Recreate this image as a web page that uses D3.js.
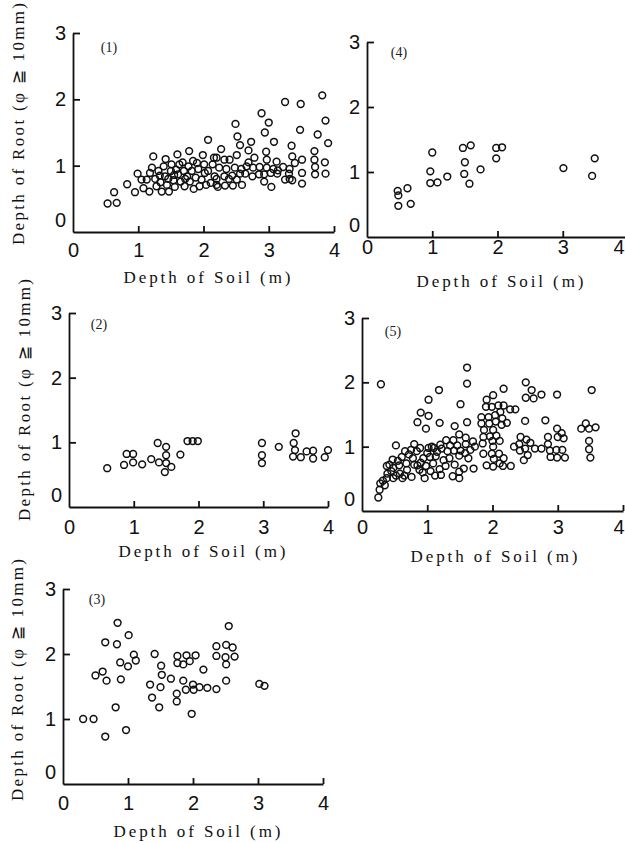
<!DOCTYPE html>
<html><head><meta charset="utf-8">
<script src="https://cdn.jsdelivr.net/npm/d3@7"></script>
<style>
body{margin:0;background:#fff;}
svg{display:block;}
.tick text{font-family:"Liberation Sans",Arial,sans-serif;font-size:20px;fill:#111;}
.domain,.tick line{stroke:#111;stroke-width:1.8px;}
.ttl{font-family:"Liberation Serif","Times New Roman",serif;font-size:17px;fill:#111;}
.plab{font-family:"Liberation Serif","Times New Roman",serif;font-size:14px;fill:#222;}
</style></head><body>
<svg id="c" width="625" height="843"></svg>
<script>
// ---- data (Depth of Soil m, Depth of Root m) ----
const xTicks = [0,1,2,3,4];
const yTicks = [0,1,2,3];
const xTitle = "Depth of Soil (m)";
const yTitle = "Depth of Root (\u03c6 \u2267 10mm)";

const panel1 = [
[0.53,0.43],[0.67,0.44],[0.63,0.60],[0.83,0.72],[0.95,0.60],[0.99,0.88],[1.05,0.79],[1.08,0.66],[1.17,0.61],[1.18,0.89],
[1.23,1.14],[1.26,0.80],[1.28,0.69],[1.31,0.92],[1.34,0.75],[1.36,0.61],[1.41,0.84],[1.42,1.10],[1.44,0.71],[1.47,0.61],
[1.50,0.92],[1.51,1.02],[1.54,0.78],[1.56,0.68],[1.60,1.17],[1.61,0.87],[1.63,1.02],[1.65,0.76],[1.68,1.05],[1.70,0.92],
[1.71,0.69],[1.75,0.84],[1.77,0.99],[1.78,1.22],[1.79,0.76],[1.82,0.92],[1.85,0.65],[1.88,0.82],[1.92,0.95],[1.97,0.79],
[1.99,1.16],[2.01,1.02],[2.02,0.89],[2.04,0.71],[2.07,1.39],[2.07,0.92],[2.11,0.74],[2.14,1.02],[2.16,1.12],[2.17,0.84],
[2.20,0.71],[1.13,0.79],[1.39,0.99],[1.58,0.94],[1.84,1.07],[1.94,0.69],[1.21,0.97],[1.46,0.80],[1.72,0.80],[1.90,1.04],
[1.33,0.85],[1.55,0.86],
[3.82,2.06],[3.25,1.96],[3.49,1.93],[2.89,1.79],[3.87,1.68],[2.49,1.63],[3.00,1.65],[3.48,1.54],[3.75,1.47],[2.94,1.50],
[2.52,1.44],[3.08,1.36],[2.73,1.36],[2.56,1.31],[3.91,1.34],[3.35,1.30],[2.27,1.25],[2.69,1.23],[3.70,1.22],[2.96,1.21],
[3.36,1.14],[3.51,1.09],[3.70,1.09],[3.86,1.05],[2.20,1.12],[2.32,1.09],[2.40,1.09],[2.51,1.16],[2.78,1.12],[2.97,1.09],
[3.12,1.06],[2.69,1.05],[3.71,0.98],[3.40,1.04],[3.22,0.98],[3.32,0.95],[2.24,0.97],[2.35,0.95],[2.48,0.97],[2.58,0.95],
[2.66,0.99],[2.76,0.97],[2.86,0.98],[2.97,0.97],[3.07,0.95],[3.14,0.93],[2.32,0.84],[2.44,0.85],[2.56,0.88],[2.64,0.88],
[2.75,0.84],[2.85,0.87],[2.93,0.87],[3.03,0.89],[3.13,0.88],[3.31,0.88],[3.51,0.89],[3.71,0.87],[3.87,0.88],[2.20,0.80],
[2.39,0.80],[2.51,0.79],[3.25,0.79],[3.36,0.78],[2.33,0.70],[2.45,0.70],[2.59,0.71],[2.93,0.76],[3.04,0.68],[3.32,0.80],
[3.51,0.73],[2.22,0.68]
];

const panel2 = [
[0.59,0.60],[0.85,0.65],[0.89,0.82],[0.99,0.82],[0.99,0.69],[1.13,0.66],[1.27,0.74],[1.39,0.69],[1.37,0.99],[1.50,0.93],
[1.50,0.80],[1.50,0.68],[1.48,0.54],[1.58,0.62],[1.72,0.81],[1.83,1.02],[1.91,1.02],[1.99,1.02],[2.98,0.99],[2.98,0.80],
[2.98,0.68],[3.24,0.93],[3.50,1.14],[3.47,0.99],[3.49,0.88],[3.46,0.78],[3.58,0.77],[3.67,0.86],[3.77,0.87],[3.77,0.75],
[3.95,0.77],[4.00,0.88]
];

const panel3 = [
[0.31,1.00],[0.47,1.00],[0.65,0.73],[0.50,1.67],[0.61,1.73],[0.67,1.59],[0.65,2.18],[0.84,2.48],[0.83,2.15],[0.88,1.87],
[0.89,1.61],[0.81,1.18],[0.97,0.83],[1.01,2.29],[1.00,1.81],[1.09,1.99],[1.12,1.90],[1.41,2.00],[1.34,1.53],[1.37,1.33],
[1.50,1.49],[1.48,1.18],[1.51,1.82],[1.52,1.68],[1.66,1.62],[1.76,1.97],[1.76,1.86],[1.75,1.39],[1.75,1.27],[1.85,1.84],
[1.85,1.59],[1.90,1.98],[1.89,1.45],[1.95,1.89],[2.04,1.98],[2.00,1.53],[2.01,1.45],[1.98,1.08],[2.10,1.49],[2.16,1.76],
[2.22,1.48],[2.36,2.12],[2.36,1.97],[2.36,1.46],[2.51,2.14],[2.50,1.95],[2.51,1.84],[2.51,1.59],[2.55,2.43],[2.61,2.10],
[2.64,1.96],[3.02,1.54],[3.10,1.51]
];

const panel4 = [
[0.47,0.71],[0.48,0.64],[0.48,0.48],[0.62,0.75],[0.67,0.51],[1.00,1.30],[0.97,1.01],[0.97,0.83],[1.08,0.84],[1.23,0.93],
[1.47,1.37],[1.59,1.41],[1.50,1.15],[1.49,0.97],[1.57,0.82],[1.74,1.04],[1.98,1.37],[2.07,1.38],[1.98,1.21],[3.01,1.06],
[3.45,0.94],[3.49,1.21]
];

const panel5 = [
[0.29,1.97],[1.61,2.23],[1.61,1.98],[1.18,1.88],[1.02,1.73],[1.51,1.66],[0.90,1.53],[1.02,1.48],[0.85,1.38],[1.19,1.37],
[1.61,1.38],[0.98,1.28],[1.42,1.32],[1.49,1.19],[1.59,1.14],[0.52,1.02],[1.73,1.00],[1.71,0.66],
[0.25,0.21],[0.27,0.33],[0.28,0.43],[0.35,0.40],[0.38,0.51],[0.38,0.70],[0.39,0.58],[0.47,0.80],[0.48,0.67],[0.48,0.51],
[0.57,0.71],[0.58,0.58],[0.61,0.84],[0.62,0.51],[0.66,0.93],[0.68,0.74],[0.69,0.64],[0.76,0.53],[0.78,0.82],[0.80,1.04],
[0.84,0.93],[0.85,0.71],[0.88,0.64],[0.89,0.98],[0.94,0.82],[0.96,0.51],[0.98,0.70],[1.02,0.98],[1.04,0.84],[1.09,0.74],
[1.10,0.98],[1.13,0.85],[1.19,0.65],[1.21,0.56],[1.22,0.97],[1.25,0.79],[1.29,1.10],[1.31,0.93],[1.34,0.82],[1.39,0.54],
[1.40,1.10],[1.41,0.94],[1.42,0.72],[1.46,1.02],[1.49,0.51],[1.49,0.61],[1.49,0.86],[1.51,0.94],[1.56,0.66],[1.58,0.90],
[1.63,0.82],[1.59,1.04],
[0.45,0.62],[0.55,0.78],[0.72,0.88],[0.90,0.75],[1.00,0.90],[1.05,0.62],[1.15,0.92],[1.28,0.70],[1.35,1.02],[1.66,0.95],
[1.70,1.08],[1.20,1.03],[0.80,0.72],[0.65,0.55],[0.52,0.55],[0.42,0.72],[0.32,0.47],[1.12,0.55],[0.93,0.60],[0.75,0.95],
[1.07,1.00],
[1.91,1.73],[2.01,1.80],[2.17,1.90],[1.90,1.62],[1.99,1.62],[2.09,1.64],[2.17,1.64],[2.27,1.58],[2.35,1.58],[1.83,1.46],
[1.94,1.46],[2.04,1.49],[2.12,1.54],[1.83,1.36],[1.95,1.36],[2.05,1.39],[2.15,1.44],[2.22,1.37],[2.14,1.34],[1.87,1.26],
[2.01,1.26],[1.86,1.15],[1.96,1.16],[2.06,1.17],[1.85,1.05],[2.00,1.09],[2.11,1.09],[2.01,1.00],[1.86,0.89],[1.99,0.89],
[2.10,0.89],[2.17,0.82],[2.02,0.81],[1.91,0.71],[2.01,0.69],[2.11,0.74],[2.16,0.70],[2.28,0.70],
[2.51,2.00],[2.60,1.88],[2.75,1.81],[2.51,1.76],[2.63,1.75],[2.99,1.81],[3.52,1.88],[2.50,1.40],[2.81,1.41],[3.36,1.28],
[3.43,1.36],[3.48,1.28],[3.58,1.30],[2.99,1.28],[3.06,1.21],[3.00,1.15],[3.09,1.13],[2.85,1.15],[3.48,1.09],[3.48,0.96],
[3.50,0.83],[2.43,1.15],[2.52,1.11],[2.58,1.06],[2.33,1.00],[2.41,1.04],[2.42,0.94],[2.50,0.97],[2.54,0.87],[2.48,0.79],
[2.65,0.97],[2.75,0.97],[2.85,1.04],[2.88,0.94],[2.98,0.95],[3.07,0.95],[2.89,0.84],[2.99,0.83],[3.11,0.83]
];

// ---- layout ----
const layout = [
 {label:"(1)", data:panel1, x0:73, x4:334, y0:232, y3:33, lblPad:11, lab:[109,52], xt:[207,283], yt:[18,124]},
 {label:"(4)", data:panel4, x0:367, x4:628, y0:237, y3:42, lblPad:3, lab:[399,57], xt:[500,287], yt:null},
 {label:"(2)", data:panel2, x0:69, x4:328, y0:507, y3:313, lblPad:13, lab:[99,329], xt:[202,557], yt:[24,400]},
 {label:"(5)", data:panel5, x0:362, x4:623, y0:511, y3:318, lblPad:9, lab:[393,336], xt:[494,562], yt:null},
 {label:"(3)", data:panel3, x0:63, x4:323, y0:784, y3:589, lblPad:12, lab:[97,604], xt:[197,837], yt:[17,680]}
];

const W = 625;
const svg = d3.select("#c");

layout.forEach(p=>{
  const x = d3.scaleLinear().domain([0,4]).range([p.x0,p.x4]);
  const y = d3.scaleLinear().domain([0,3]).range([p.y0,p.y3]);
  const g = svg.append("g");

  const gx = g.append("g").attr("transform",`translate(0,${p.y0})`)
    .call(d3.axisBottom(x).tickValues(xTicks).tickSizeInner(-6).tickSizeOuter(0).tickPadding(p.lblPad).tickFormat(d3.format("d")));
  gx.selectAll(".tick").filter(d=>d===0).select("line").remove();
  // keep tick labels inside the page
  gx.selectAll(".tick text").each(function(d){
    const bb = this.getBBox();
    const right = x(d) + bb.x + bb.width;
    if(right > W-1) d3.select(this).attr("x", (W-1) - right);
  });

  const gy = g.append("g").attr("transform",`translate(${p.x0},0)`)
    .call(d3.axisLeft(y).tickValues(yTicks).tickSizeInner(-7).tickSizeOuter(0).tickPadding(7).tickFormat(d3.format("d")));
  gy.selectAll(".tick").filter(d=>d===0).select("line").remove();
  gy.selectAll(".tick").filter(d=>d===0).select("text").attr("y",-12);
  g.selectAll(".domain").attr("fill","none");

  g.append("text").attr("class","plab").attr("x",p.lab[0]).attr("y",p.lab[1]).attr("text-anchor","middle").text(p.label);

  g.append("text").attr("class","ttl").attr("x",p.xt[0]).attr("y",p.xt[1]).attr("text-anchor","middle")
    .attr("textLength",167).attr("lengthAdjust","spacing").text(xTitle);

  if(p.yt){
    g.append("text").attr("class","ttl").attr("transform",`translate(${p.yt[0]},${p.yt[1]}) rotate(-90)`)
      .attr("text-anchor","middle").attr("dy","0.35em").attr("textLength",242).attr("lengthAdjust","spacing").text(yTitle);
  }

  g.append("g").selectAll("circle").data(p.data).join("circle")
    .attr("cx",d=>x(d[0])).attr("cy",d=>y(d[1])).attr("r",3.4)
    .attr("fill","none").attr("stroke","#111").attr("stroke-width",1.5);
});
</script></body></html>
